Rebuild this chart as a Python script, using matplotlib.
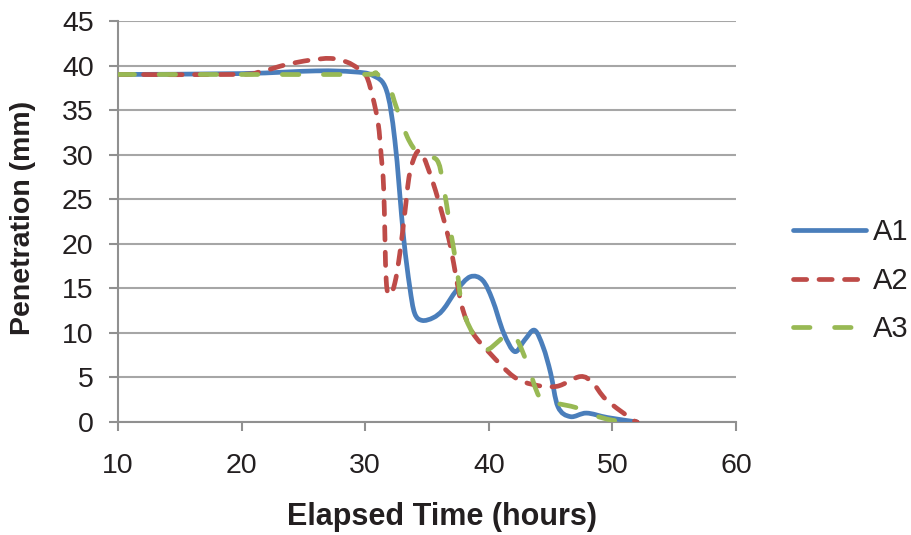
import matplotlib
matplotlib.use("Agg")
import matplotlib.pyplot as plt
from matplotlib.path import Path
from matplotlib.patches import PathPatch
from matplotlib.lines import Line2D

plt.rcParams["font.family"] = ["Liberation Sans", "DejaVu Sans"]

# data (Excel smoothed lines)
a1_x = [10, 20, 26, 29, 30.6, 31.7, 32.4, 33.1, 33.6, 34.0, 34.6, 35.5, 36.3,
        37.4, 38.5, 39.5, 40.3, 41.2, 42.1, 42.9, 43.7, 44.4, 45.0, 45.6,
        46.6, 47.9, 49.6, 52]
a1_y = [39, 39.1, 39.4, 39.3, 38.9, 37.3, 31.6, 20.8, 15.2, 12.2, 11.4, 11.7,
        12.6, 14.8, 16.3, 15.9, 13.7, 10.0, 7.9, 9.2, 10.3, 8.4, 5.5, 1.7,
        0.6, 1.0, 0.5, 0]

a2_x = [10, 19.6, 21.5, 23.6, 25.5, 27.2, 28.5, 29.4, 30.1, 30.6, 31.05, 31.3,
        31.5, 31.7, 32.0, 32.4, 32.8, 33.2, 33.6, 34.2, 34.7, 35.5, 36.3,
        36.9, 37.4, 37.9, 38.7, 40.1, 42.0, 43.6, 45.5, 47.4, 48.4, 49.5,
        51.7, 52]
a2_y = [39, 39, 39.3, 40.1, 40.6, 40.8, 40.4, 39.7, 38.8, 36.5, 33.5, 29.8,
        26.0, 15.9, 14.3, 15.6, 18.9, 23.4, 27.9, 30.3, 29.8, 26.8, 23.0,
        19.7, 15.9, 12.6, 10.0, 7.7, 5.1, 4.2, 4.0, 5.1, 4.4, 2.5, 0.2, 0]

a3_x = [10, 20, 29.8, 30.9, 32.0, 32.5, 33.4, 34.2, 34.7, 35.8, 36.3, 36.9,
        37.4, 37.9, 39.0, 39.8, 40.9, 41.6, 42.3, 43.1, 44.1, 45.2, 47.1,
        48.4, 50.0, 51.7, 52]
a3_y = [39, 39, 39, 39.1, 37.3, 35.4, 32.0, 30.2, 29.8, 29.4, 26.8, 21.5,
        17.4, 12.6, 9.2, 8.1, 9.2, 10.1, 9.2, 6.6, 2.8, 2.2, 1.6, 0.8, 0.2,
        0, 0]

series = ["A1", "A2", "A3"]
colors = ["#4a7ebb", "#be4b48", "#98b954"]
styles = ["-", (0, (2.8, 2.6)), (0, (3.5, 5.2))]
xticks = [10, 20, 30, 40, 50, 60]
yticks = [0, 5, 10, 15, 20, 25, 30, 35, 40, 45]


def smooth_path(xs, ys):
    # Excel-style smoothing: cubic Bezier through each point (Catmull-Rom, 1/6)
    pts = list(zip(xs, ys))
    verts = [pts[0]]
    codes = [Path.MOVETO]
    n = len(pts)
    for i in range(n - 1):
        p0 = pts[max(i - 1, 0)]
        p1 = pts[i]
        p2 = pts[i + 1]
        p3 = pts[min(i + 2, n - 1)]
        c1 = (p1[0] + (p2[0] - p0[0]) / 6, p1[1] + (p2[1] - p0[1]) / 6)
        c2 = (p2[0] - (p3[0] - p1[0]) / 6, p2[1] - (p3[1] - p1[1]) / 6)
        verts += [c1, c2, p2]
        codes += [Path.CURVE4] * 3
    return Path(verts, codes)


fig = plt.figure(figsize=(9.11, 5.35), dpi=100)
ax = fig.add_axes([118 / 911, 113 / 535, 618 / 911, 401 / 535])

for xs, ys, c, ls in zip([a1_x, a2_x, a3_x], [a1_y, a2_y, a3_y], colors, styles):
    patch = PathPatch(smooth_path(xs, ys), facecolor="none", edgecolor=c,
                      linewidth=3.4, linestyle=ls, capstyle="round",
                      joinstyle="round", zorder=3)
    ax.add_patch(patch)

ax.set_xlim(10, 60)
ax.set_ylim(0, 45)
ax.set_xticks(xticks)
ax.set_yticks(yticks)
ax.grid(axis="y", color="#a6a6a6", linewidth=1.5)
ax.set_axisbelow(True)
for s in ["top", "right"]:
    ax.spines[s].set_visible(False)
for s in ["left", "bottom"]:
    ax.spines[s].set_color("#909090")
    ax.spines[s].set_linewidth(1.5)
ax.tick_params(direction="out", length=6.5, width=1.5, color="#909090",
               labelsize=20.5, labelcolor="#231f20")
ax.tick_params(axis="y", pad=11)
ax.tick_params(axis="x", pad=16)

ax.set_xlabel("Elapsed Time (hours)", fontsize=22, fontweight="bold",
              color="#231f20", va="center")
ax.xaxis.set_label_coords(0.525, -0.237)
ax.set_ylabel("Penetration (mm)", fontsize=20.5, fontweight="bold",
              color="#231f20", va="center")
ax.yaxis.set_label_coords(-0.154, 0.51)

handles = [Line2D([], [], color=c, linewidth=3.4, linestyle=ls,
                  dash_capstyle="round", solid_capstyle="round")
           for c, ls in zip(colors, styles)]
fig.legend(handles, series, loc="center left", bbox_to_anchor=(0.8705, 0.475),
           frameon=False, fontsize=21, handlelength=2.5, handletextpad=0.24,
           labelspacing=0.7, borderpad=0, borderaxespad=0, labelcolor="#231f20")

plt.savefig("out.png", dpi=100)
